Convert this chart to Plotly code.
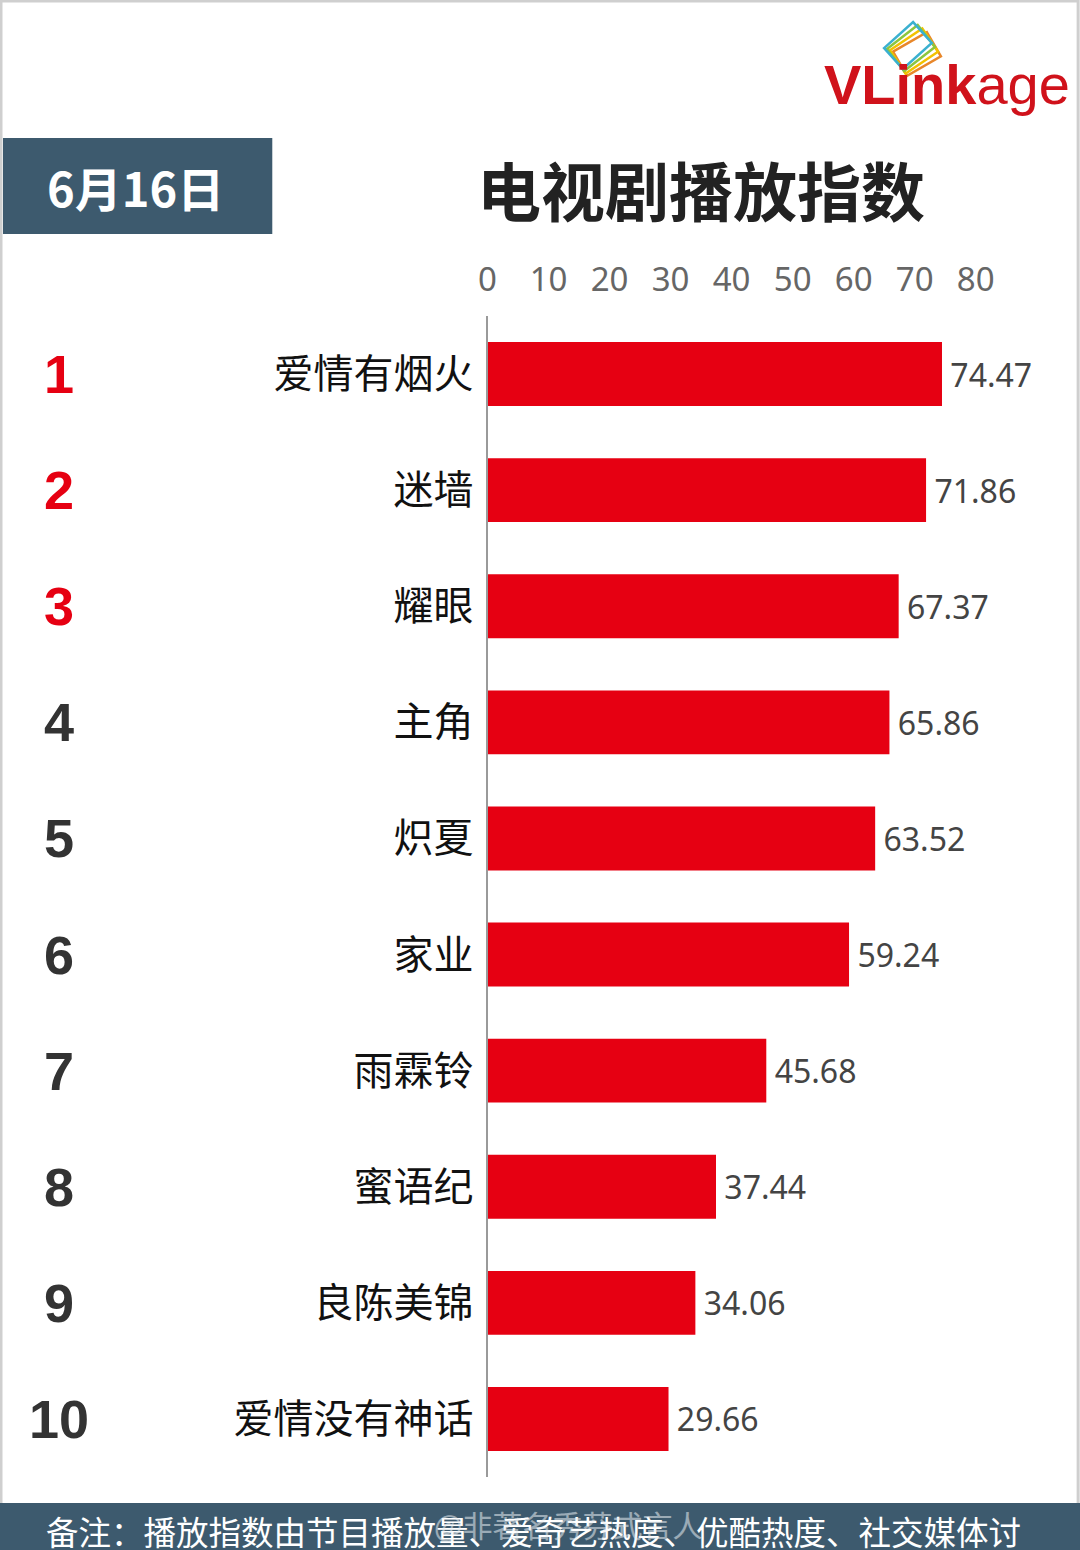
import math
import plotly.graph_objects as go

W, H = 1090, 1550

ranks = ["1", "2", "3", "4", "5", "6", "7", "8", "9", "10"]
names = ["爱情有烟火", "迷墙", "耀眼", "主角", "炽夏", "家业", "雨霖铃", "蜜语纪", "良陈美锦", "爱情没有神话"]
values = [74.47, 71.86, 67.37, 65.86, 63.52, 59.24, 45.68, 37.44, 34.06, 29.66]
tick_vals = [0, 10, 20, 30, 40, 50, 60, 70, 80]

title_text = "电视剧播放指数"
date_text = "6月16日"
note_text = "备注：播放指数由节目播放量、爱奇艺热度、优酷热度、社交媒体讨"
watermark_text = "@非著名秀芬式言人"

RED = "#e60012"
DARK = "#3d5a6e"
CJK = "Noto Sans CJK SC"

# horizontal placement helper (target pixel -> paper fraction)
K = 0.9907


def px(x):
    return (x / K) / W


def py(y):
    return 1 - y / H


fig = go.Figure()
fig.add_trace(go.Bar(
    x=values, y=names, orientation="h",
    marker=dict(color=RED, line=dict(width=0)),
    width=0.55,
    text=["\u2006" + f"{v:.2f}" for v in values],
    textposition="outside",
    textfont=dict(family="Noto Sans", size=32, color="#444444"),
    cliponaxis=False,
    hoverinfo="skip",
))

x0 = 487
scale = (941 - 487) / 74.47
xmax = 90
fig.update_layout(
    width=W, height=H,
    margin=dict(l=0, r=0, t=0, b=0),
    paper_bgcolor="white", plot_bgcolor="white",
    showlegend=False,
    bargap=0.45,
    xaxis=dict(
        domain=[px(x0), px(x0 + xmax * scale)],
        range=[0, xmax], side="top",
        tickvals=tick_vals, ticks="", showgrid=False, zeroline=False,
        showline=False,
        tickfont=dict(family="Noto Sans", size=33, color="#666666"),
        ticklabelstandoff=17,
    ),
    yaxis=dict(
        domain=[py(1477), py(316)],
        type="category", categoryarray=names, autorange="reversed",
        showline=True, linecolor="#9a9a9a", linewidth=2,
        ticks="", showgrid=False, zeroline=False,
        tickfont=dict(family=CJK, size=40, color="#111111"),
        ticklabelstandoff=4,
    ),
)

shapes = []
shapes.append(dict(type="rect", xref="paper", yref="paper", x0=px(1), x1=px(1077), y0=py(1549), y1=py(1),
                   line=dict(color="#cfcfcf", width=3), fillcolor="rgba(0,0,0,0)", layer="above"))
shapes.append(dict(type="rect", xref="paper", yref="paper", x0=px(3), x1=px(272), y0=py(234), y1=py(138),
                   line=dict(width=0), fillcolor=DARK, layer="below"))
shapes.append(dict(type="rect", xref="paper", yref="paper", x0=0, x1=1, y0=py(1550), y1=py(1503),
                   line=dict(width=0), fillcolor=DARK, layer="above"))

logo_rects = [
    ("#e8872a", 916, 54, 30),
    ("#f2c200", 913, 51, 34),
    ("#8cc63f", 910, 48, 38),
    ("#3ab0d0", 907, 45.5, 42),
]
for col, cx, cy, ang in logo_rects:
    w, h = 39, 28
    a = math.radians(ang)
    pts = []
    for dx, dy in [(-w / 2, -h / 2), (w / 2, -h / 2), (w / 2, h / 2), (-w / 2, h / 2)]:
        rx = cx + dx * math.cos(a) + dy * math.sin(a)
        ry = cy - dx * math.sin(a) + dy * math.cos(a)
        pts.append((px(rx), py(ry)))
    path = "M " + " L ".join(f"{x:.5f},{y:.5f}" for x, y in pts) + " Z"
    shapes.append(dict(type="path", xref="paper", yref="paper", path=path,
                       line=dict(color=col, width=2.5), fillcolor="rgba(0,0,0,0)", layer="above"))

fig.update_layout(shapes=shapes)

ann = []
for i, r in enumerate(ranks):
    ann.append(dict(x=px(59), y=names[i], xref="paper", yref="y", text="<b>" + r + "</b>", showarrow=False,
                    xanchor="center", yanchor="middle",
                    font=dict(family="Liberation Sans", size=54, color=RED if i < 3 else "#333333")))

ann.append(dict(x=px(700), y=py(188), xref="paper", yref="paper", text="<b>" + title_text + "</b>",
                showarrow=False, xanchor="center", yanchor="middle",
                font=dict(family=CJK, size=64, color="#222222")))
ann.append(dict(x=px(135), y=py(187), xref="paper", yref="paper", text="<b>" + date_text + "</b>",
                showarrow=False, xanchor="center", yanchor="middle",
                font=dict(family=CJK, size=47, color="white")))
ann.append(dict(x=px(946), y=py(84), xref="paper", yref="paper", text="<b>VLink</b>age",
                showarrow=False, xanchor="center", yanchor="middle",
                font=dict(family="Liberation Sans", size=56, color="#d0121b")))
ann.append(dict(x=px(44), y=py(1530), xref="paper", yref="paper", text=note_text,
                showarrow=False, xanchor="left", yanchor="middle",
                font=dict(family=CJK, size=32.5, color="white")))
ann.append(dict(x=px(432), y=py(1524), xref="paper", yref="paper", text=watermark_text,
                showarrow=False, xanchor="left", yanchor="middle", opacity=0.55,
                font=dict(family=CJK, size=30, color="#e8eef2")))
fig.update_layout(annotations=ann)

fig.write_html("out.html",
               config={"displayModeBar": False, "responsive": False},
               post_script="document.documentElement.style.overflow='hidden';"
                           "document.body.style.margin='0';document.body.style.marginLeft='-9px';"
                           "document.body.style.overflow='hidden';")
